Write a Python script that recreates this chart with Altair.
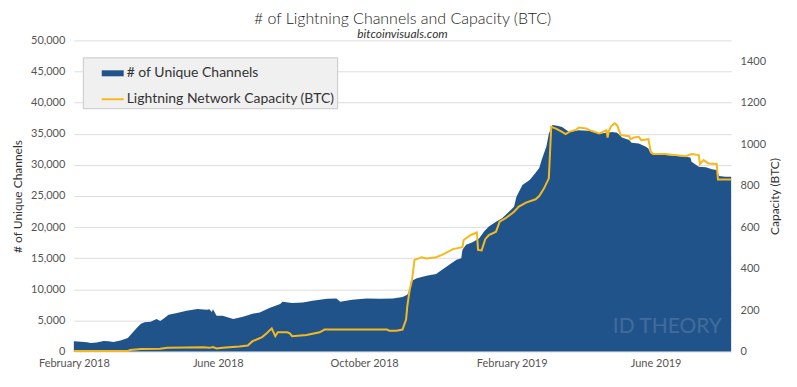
import altair as alt
import pandas as pd

S1 = "# of Unique Channels"
S2 = "Lightning Network Capacity (BTC)"

ch_dates = [
    "2018-02-01", "2018-02-07", "2018-02-12", "2018-02-15", "2018-02-20", "2018-02-26",
    "2018-03-02", "2018-03-06", "2018-03-12", "2018-03-18", "2018-03-23", "2018-03-26",
    "2018-03-29", "2018-04-01", "2018-04-06", "2018-04-11", "2018-04-14", "2018-04-17",
    "2018-04-21", "2018-04-28", "2018-05-06", "2018-05-15", "2018-05-23", "2018-05-25",
    "2018-05-27", "2018-05-28", "2018-05-31", "2018-06-05", "2018-06-14", "2018-06-22",
    "2018-06-30", "2018-07-06", "2018-07-14", "2018-07-23", "2018-07-25", "2018-08-02",
    "2018-08-11", "2018-08-19", "2018-08-31", "2018-09-08", "2018-09-11", "2018-09-21",
    "2018-10-03", "2018-10-14", "2018-10-25", "2018-11-02", "2018-11-06", "2018-11-08",
    "2018-11-09", "2018-11-14", "2018-11-22", "2018-11-30", "2018-12-05", "2018-12-11",
    "2018-12-17", "2018-12-21", "2018-12-22", "2018-12-25", "2018-12-30", "2019-01-05",
    "2019-01-09", "2019-01-13", "2019-01-19", "2019-01-24", "2019-01-30", "2019-02-03",
    "2019-02-05", "2019-02-10", "2019-02-16", "2019-02-20", "2019-02-24", "2019-02-26",
    "2019-03-02", "2019-03-04", "2019-03-07", "2019-03-11", "2019-03-15", "2019-03-21",
    "2019-03-29", "2019-04-09", "2019-04-15", "2019-04-21", "2019-04-26", "2019-04-30",
    "2019-05-04", "2019-05-10", "2019-05-12", "2019-05-18", "2019-05-24", "2019-05-26",
    "2019-05-28", "2019-06-01", "2019-06-09", "2019-06-18", "2019-06-26", "2019-06-30",
    "2019-07-01", "2019-07-07", "2019-07-13", "2019-07-18", "2019-07-22", "2019-07-24",
    "2019-07-29", "2019-08-03",
]
ch_values = [
    1650, 1600, 1500, 1390, 1450, 1710,
    1650, 1550, 1800, 2190, 3260, 3900,
    4490, 4700, 4800, 5240, 4900, 5300,
    5930, 6200, 6570, 6840, 6730, 6800,
    6380, 6800, 5770, 5770, 5240, 5610,
    6090, 6300, 7000, 7640, 8010, 7800,
    7900, 8170, 8490, 8550, 8010, 8330,
    8550, 8500, 8550, 8760, 9130, 10000,
    11300, 11800, 12180, 12450, 13140, 13940,
    14740, 15000, 16350, 17150, 17520, 18220,
    19280, 20080, 20880, 21430, 22490, 23290,
    24890, 26760, 27560, 28500, 29500, 30800,
    33000, 35000, 36400, 36300, 36100, 35300,
    35580, 35460, 35000, 35150, 35300, 35150,
    34400, 33980, 33540, 33440, 32900, 32640,
    31840, 31570, 31570, 31410, 31300, 31200,
    30500, 29700, 29600, 29280, 29170, 28200,
    28100, 28100,
]

cap_dates = [
    "2018-02-01", "2018-03-18", "2018-03-20", "2018-03-29", "2018-04-14", "2018-04-20",
    "2018-05-20", "2018-05-25", "2018-05-28", "2018-05-31", "2018-06-05", "2018-06-19",
    "2018-06-26", "2018-06-30", "2018-07-08", "2018-07-12", "2018-07-16", "2018-07-19",
    "2018-07-21", "2018-07-29", "2018-07-31", "2018-08-02", "2018-08-14", "2018-08-25",
    "2018-08-29", "2018-09-16", "2018-10-20", "2018-10-22", "2018-10-28", "2018-11-02",
    "2018-11-05", "2018-11-06", "2018-11-08", "2018-11-10", "2018-11-12", "2018-11-14",
    "2018-11-18", "2018-11-22", "2018-11-30", "2018-12-05", "2018-12-14", "2018-12-22",
    "2018-12-23", "2018-12-29", "2019-01-03", "2019-01-04", "2019-01-07", "2019-01-10",
    "2019-01-13", "2019-01-19", "2019-01-22", "2019-01-27", "2019-02-03", "2019-02-07",
    "2019-02-13", "2019-02-21", "2019-02-24", "2019-02-28", "2019-03-04", "2019-03-06",
    "2019-03-10", "2019-03-15", "2019-03-18", "2019-03-21", "2019-03-27", "2019-03-29",
    "2019-04-04", "2019-04-09", "2019-04-15", "2019-04-21", "2019-04-22", "2019-04-23",
    "2019-04-25", "2019-04-28", "2019-04-30", "2019-05-03", "2019-05-10", "2019-05-11",
    "2019-05-14", "2019-05-18", "2019-05-20", "2019-05-26", "2019-05-28", "2019-05-30",
    "2019-06-09", "2019-06-18", "2019-06-26", "2019-07-01", "2019-07-07", "2019-07-08",
    "2019-07-11", "2019-07-15", "2019-07-22", "2019-07-23", "2019-08-03",
]
cap_values = [
    3, 3, 8, 12, 14, 18,
    21, 18, 22, 15, 18, 24,
    29, 50, 70, 90, 112, 74,
    93, 93, 88, 74, 80, 93,
    106, 106, 106, 101, 101, 106,
    154, 218, 298, 346, 442, 446,
    455, 449, 455, 466, 494, 503,
    538, 562, 574, 490, 488, 542,
    562, 578, 626, 643, 674, 699,
    718, 734, 750, 787, 835, 1083,
    1075, 1059, 1048, 1059, 1070, 1080,
    1075, 1063, 1051, 1067, 1032, 1063,
    1087, 1100, 1090, 1043, 1038, 1024,
    1032, 1035, 1019, 1024, 963, 952,
    952, 947, 942, 952, 947, 904,
    923, 907, 904, 830, 830,
]

left_ticks = [0, 5000, 10000, 15000, 20000, 25000, 30000, 35000, 40000, 45000, 50000]
right_ticks = [0, 200, 400, 600, 800, 1000, 1200, 1400]
x_ticks = [(2018, 2), (2018, 6), (2018, 10), (2019, 2), (2019, 6)]

BLUE = "#21538b"
YELLOW = "#f6b91c"
FONT = "Lato"

df_ch = pd.DataFrame({"date": pd.to_datetime(ch_dates), "value": ch_values, "series": S1})
df_cap = pd.DataFrame({"date": pd.to_datetime(cap_dates), "value": cap_values, "series": S2})
df_wm = pd.DataFrame({"t": ["ID THEORY"]})

legend = alt.Legend(
    title=None, orient="none", legendX=9, legendY=17,
    fillColor="#f0f0f0", strokeColor="#c8c8c8", padding=2,
    symbolType="stroke", symbolSize=484, symbolOffset=14,
    labelFontSize=14, labelColor="#333333", labelFont=FONT, labelOffset=0,
    rowPadding=2, labelLimit=400,
)
color = alt.Color("series:N", scale=alt.Scale(domain=[S1, S2], range=[BLUE, YELLOW]), legend=legend)
swidth = alt.StrokeWidth("series:N", scale=alt.Scale(domain=[S1, S2], range=[6, 2]), legend=legend)

xenc = alt.X(
    "date:T",
    scale=alt.Scale(domain=[alt.DateTime(year=2018, month=2, date=1), alt.DateTime(year=2019, month=8, date=3)]),
    axis=alt.Axis(
        title=None, format="%B %Y", grid=False, domain=False, ticks=False, tickSize=0,
        values=[alt.DateTime(year=y, month=m, date=1) for y, m in x_ticks],
        labelFlush=False, labelOverlap=False, labelPadding=6,
        labelFontSize=11, labelColor="#555555", labelFont=FONT,
    ),
)

area = alt.Chart(df_ch).mark_area(interpolate="linear").encode(
    x=xenc,
    y=alt.Y(
        "value:Q", scale=alt.Scale(domain=[0, 50000], nice=False),
        axis=alt.Axis(
            title=S1, values=left_ticks, format=",d", grid=True, gridColor="#dddddd",
            domain=False, ticks=False, tickSize=0, labelPadding=9, titlePadding=6,
            labelFontSize=11, labelColor="#555555", labelFont=FONT,
            titleFontSize=12, titleFontWeight="normal", titleColor="#333333", titleFont=FONT,
        ),
    ),
    color=color,
    strokeWidth=swidth,
)

line = alt.Chart(df_cap).mark_line(interpolate="linear").encode(
    x=xenc,
    y=alt.Y(
        "value:Q", scale=alt.Scale(domain=[0, 1500], nice=False),
        axis=alt.Axis(
            orient="right", title="Capacity (BTC)", values=right_ticks, format="d", grid=False,
            domain=False, ticks=False, tickSize=0, labelPadding=9, titlePadding=4,
            titleAngle=270, titleBaseline="top",
            labelFontSize=11, labelColor="#555555", labelFont=FONT,
            titleFontSize=12, titleFontWeight="normal", titleColor="#333333", titleFont=FONT,
        ),
    ),
    color=color,
    strokeWidth=swidth,
)

watermark = alt.Chart(df_wm).mark_text(
    font=FONT, fontSize=21, fill="#ffffff", opacity=0.14, align="center", baseline="middle"
).encode(text="t:N", x=alt.value(595), y=alt.value(287))

chart = (
    alt.layer(area, line, watermark)
    .resolve_scale(y="independent", color="shared", strokeWidth="shared")
    .properties(
        width=659, height=312,
        autosize=alt.AutoSizeParams(type="none"),
        padding={"left": 66, "top": 32, "right": 58, "bottom": 25},
        title=alt.TitleParams(
            "# of Lightning Channels and Capacity (BTC)",
            subtitle="bitcoinvisuals.com",
            fontSize=16, font=FONT, fontWeight=300, color="#222222",
            subtitleFontSize=12, subtitleFont=FONT, subtitleFontStyle="italic", subtitleColor="#333333",
            anchor="middle", offset=-6, subtitlePadding=2,
        ),
    )
    .configure_view(stroke=None)
)

chart.save("out.html", embed_options={"renderer": "svg", "actions": False})
